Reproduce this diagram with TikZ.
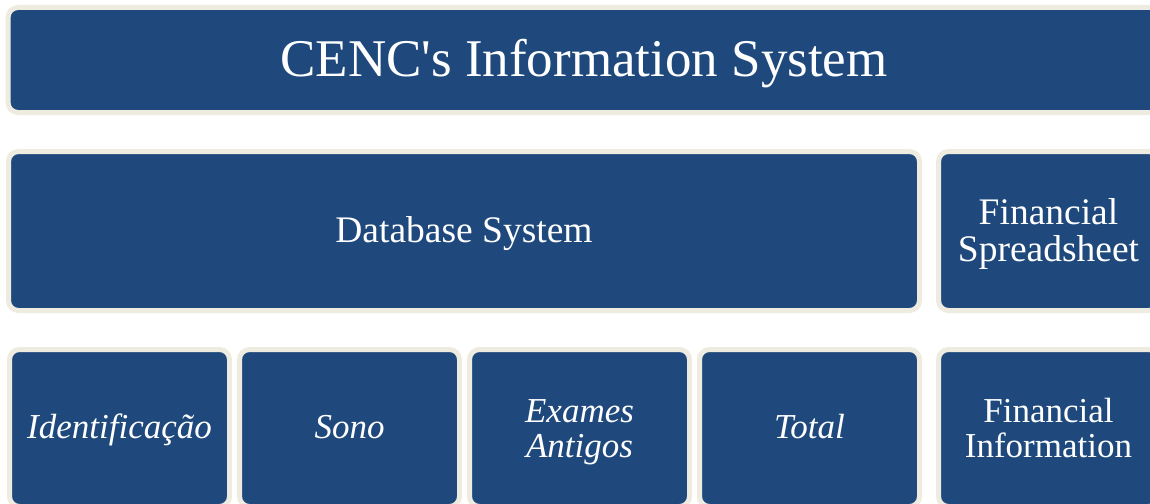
\documentclass[tikz,border=0pt]{standalone}
\usepackage{fontspec}
\setmainfont{Liberation Serif}
\definecolor{boxblue}{HTML}{1F497D}
\definecolor{boxedge}{HTML}{EEECE1}
\begin{document}
\begin{tikzpicture}[x=1pt,y=-1pt,
  panel/.style={rectangle, draw=boxedge, fill=boxblue, line width=5pt,
    rounded corners=10pt, inner sep=0pt, outer sep=0pt},
  % text nodes are centred between the cap height of the first line and the baseline of the last
  caption/.style={text=white, align=center, inner sep=0pt, text depth=0pt},
  titlefont/.style={caption, font=\fontsize{53}{60}\selectfont, text height=35pt},
  midfont/.style={caption, font=\fontsize{37.5}{37}\selectfont, text height=24.8pt},
  midfont2/.style={midfont, text height=61.8pt},
  lowfont/.style={caption, font=\fontsize{35}{35}\selectfont, text height=23.1pt},
  lowfont2/.style={lowfont, text height=58.1pt},
  lowitalic/.style={lowfont, font=\fontsize{35}{35}\selectfont\itshape},
  lowitalic2/.style={lowfont2, font=\fontsize{35}{35}\selectfont\itshape}]
  \useasboundingbox (0,0) rectangle (1150,503);
  \clip (0,0) rectangle (1150,503);

  % top level
  \node[panel, minimum width=1152pt, minimum height=105pt] (cenc) at (584,60) {};
  \node[titlefont] (cenctext) at ([yshift=1.5pt]cenc.center)
    {CENC\textquotesingle s Information System};

  % second level
  \node[panel, minimum width=911pt, minimum height=159pt] (db) at (464,231) {};
  \node[midfont] (dbtext) at ([yshift=1pt]db.center) {Database System};
  \node[panel, minimum width=220pt, minimum height=159pt] (fs) at (1048.5,231) {};
  \node[midfont2] (fstext) at ([yshift=0.5pt]fs.center) {Financial\\Spreadsheet};

  % third level
  \node[panel, minimum width=220pt, minimum height=157pt] (ident) at (119.5,428) {};
  \node[lowitalic] (identtext) at ([yshift=1.5pt]ident.center) {Identificação};
  \node[panel, minimum width=220pt, minimum height=157pt] (sono) at (349.5,428) {};
  \node[lowitalic] (sonotext) at ([yshift=1pt]sono.center) {Sono};
  \node[panel, minimum width=220pt, minimum height=157pt] (exames) at (579.5,428) {};
  \node[lowitalic2] (examestext) at (exames.center) {Exames\\Antigos};
  \node[panel, minimum width=220pt, minimum height=157pt] (total) at (809.5,428) {};
  \node[lowitalic] (totaltext) at ([yshift=1pt]total.center) {Total};
  \node[panel, minimum width=220pt, minimum height=157pt] (fi) at (1048.5,428) {};
  \node[lowfont2] (fitext) at (fi.center) {Financial\\Information};
\end{tikzpicture}
\end{document}
